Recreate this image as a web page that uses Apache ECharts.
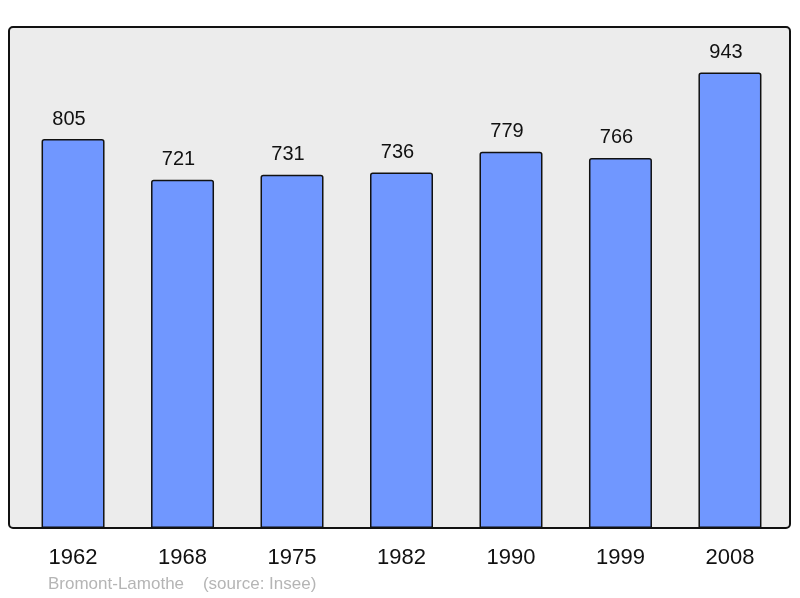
<!DOCTYPE html>
<html>
<head>
<meta charset="utf-8">
<script src="https://cdn.jsdelivr.net/npm/echarts@6/dist/echarts.min.js"></script>
<style>
html,body{margin:0;padding:0;background:#fff;}
#c{width:800px;height:598px;}
</style>
</head>
<body>
<div id="c"></div>
<script>
const years = ['1962', '1968', '1975', '1982', '1990', '1999', '2008'];
const population = [805, 721, 731, 736, 779, 766, 943];
const footer = 'Bromont-Lamothe    (source: Insee)';

const chart = echarts.init(document.getElementById('c'), null, {renderer: 'canvas'});
chart.setOption({
  animation: false,
  textStyle: {fontFamily: 'Liberation Sans, Arial, sans-serif'},
  graphic: [{
    type: 'rect',
    z: -10,
    shape: {x: 9, y: 27, width: 781, height: 501, r: 4},
    style: {fill: '#ececec', stroke: '#111', lineWidth: 2}
  }],
  title: {
    text: footer,
    left: 48,
    top: 576,
    padding: 0,
    textStyle: {fontSize: 17, fontWeight: 'normal', color: '#b5b5b5', fontFamily: 'Liberation Sans, Arial, sans-serif'}
  },
  grid: {left: 18.3, right: 15.3, top: 27, bottom: 70},
  xAxis: {
    type: 'category',
    data: years,
    axisLine: {show: false},
    axisTick: {show: false},
    axisLabel: {fontSize: 22, color: '#111', margin: 19, fontFamily: 'Liberation Sans, Arial, sans-serif'}
  },
  yAxis: {
    type: 'value',
    min: 0,
    max: 1037,
    show: false,
    splitLine: {show: false}
  },
  series: [{
    type: 'bar',
    data: population,
    barWidth: 63,
    itemStyle: {color: '#7097ff', borderColor: '#111', borderWidth: 1.5, borderRadius: [2, 2, 0, 0]},
    label: {
      show: true,
      position: 'top',
      distance: 10,
      offset: [-4, 0],
      fontSize: 20,
      color: '#111',
      fontFamily: 'Liberation Sans, Arial, sans-serif'
    }
  }]
});
</script>
</body>
</html>
